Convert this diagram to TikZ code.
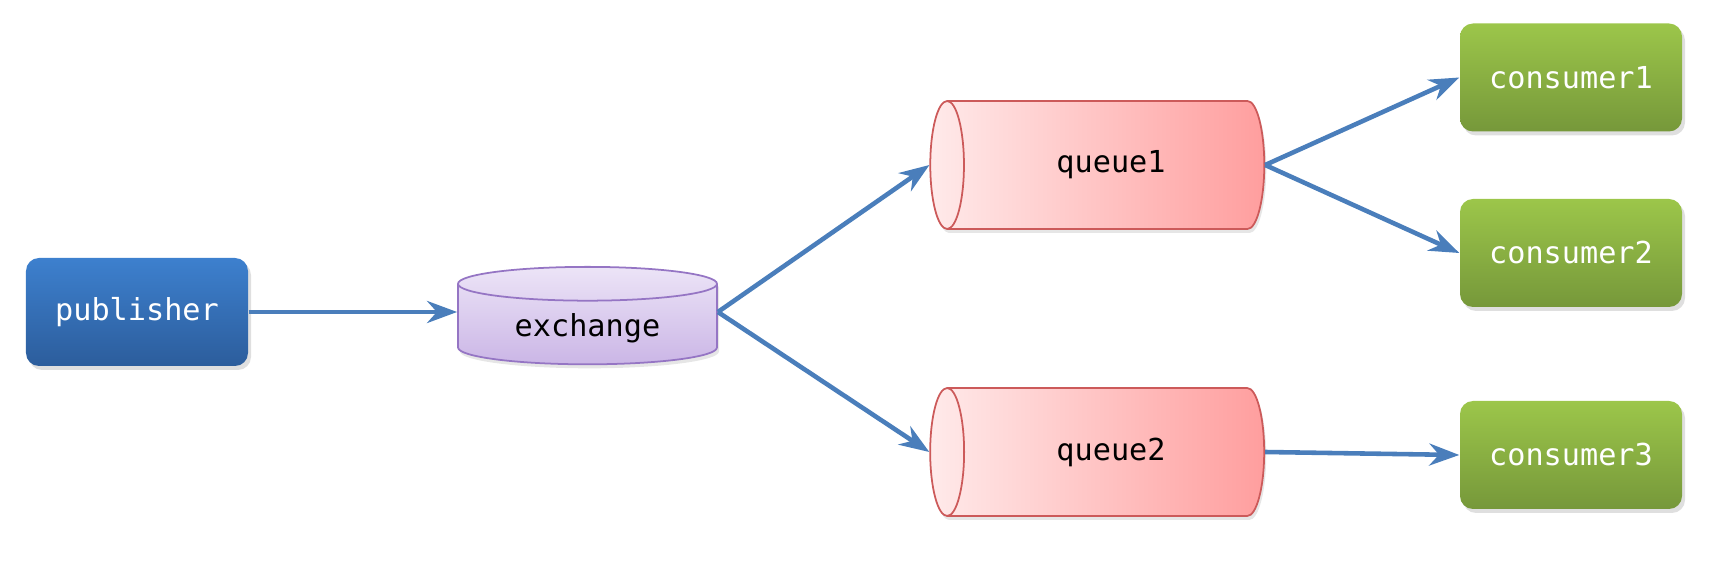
\documentclass[tikz,border=0pt]{standalone}
\usepackage{fontspec}
\setmonofont{DejaVu Sans Mono}
\usepackage{tikz}
\usetikzlibrary{shapes, arrows.meta, positioning, shadows}

\definecolor{pubtop}{HTML}{3D80CE}
\definecolor{pubbot}{HTML}{2C5D9C}
\definecolor{contop}{HTML}{9CC64A}
\definecolor{conbot}{HTML}{76983A}
\definecolor{exchtop}{HTML}{ECE4F7}
\definecolor{exchbot}{HTML}{CBB6E6}
\definecolor{exchline}{HTML}{9575C4}
\definecolor{qleft}{HTML}{FFEAEA}
\definecolor{qright}{HTML}{FF9E9E}
\definecolor{qline}{HTML}{CC5A5A}
\definecolor{wire}{HTML}{4A7EBB}

\begin{document}
\begin{tikzpicture}[
    every node/.style={font=\ttfamily\fontsize{8.6}{10}\selectfont},
    box/.style={rectangle, rounded corners=0.13cm, minimum width=2.22cm, minimum height=1.08cm,
        text=white, drop shadow={opacity=0.25, shadow xshift=0.03cm, shadow yshift=-0.04cm}},
    pubbox/.style={box, top color=pubtop, bottom color=pubbot},
    conbox/.style={box, top color=contop, bottom color=conbot},
    queuebox/.style={cylinder, shape border rotate=180, aspect=0.65, draw=qline, line width=0.5pt,
        left color=qleft, right color=qright, minimum width=1.28cm, minimum height=3.34cm,
        drop shadow={opacity=0.2, shadow xshift=0.02cm, shadow yshift=-0.04cm}},
    exchbox/.style={cylinder, shape border rotate=90, aspect=0.2, draw=exchline, line width=0.5pt,
        top color=exchtop, bottom color=exchbot, minimum width=2.59cm, minimum height=0.9cm,
        drop shadow={opacity=0.2, shadow xshift=0.02cm, shadow yshift=-0.04cm}},
    link/.style={draw=wire, line width=1.3pt, -{Stealth[length=3mm, width=2.2mm]}},
]
\useasboundingbox (0,0) rectangle (17.28,5.80);

% producer side
\node[pubbox] (pub) at (1.37, 2.68) {publisher};
\node[exchbox] (exch) at (5.875, 2.52) {exchange};

% queues
\node[queuebox] (q1) at (11.11, 4.15) {queue1};
\node[queuebox] (q2) at (11.11, 1.28) {queue2};

% consumers
\node[conbox] (c1) at (15.71, 5.025) {consumer1};
\node[conbox] (c2) at (15.71, 3.27) {consumer2};
\node[conbox] (c3) at (15.71, 1.25) {consumer3};

% exchange in/out points, level with publisher
\coordinate (exin) at (exch.west |- pub.east);
\coordinate (exout) at (exch.east |- pub.east);

% wires
\draw[link] (pub.east) -- (exin);
\draw[link] (exout) -- (q1.west);
\draw[link] (exout) -- (q2.west);
\draw[link] (q1.east) -- (c1.west);
\draw[link] (q1.east) -- (c2.west);
\draw[link] (q2.east) -- (c3.west);

\end{tikzpicture}
\end{document}
